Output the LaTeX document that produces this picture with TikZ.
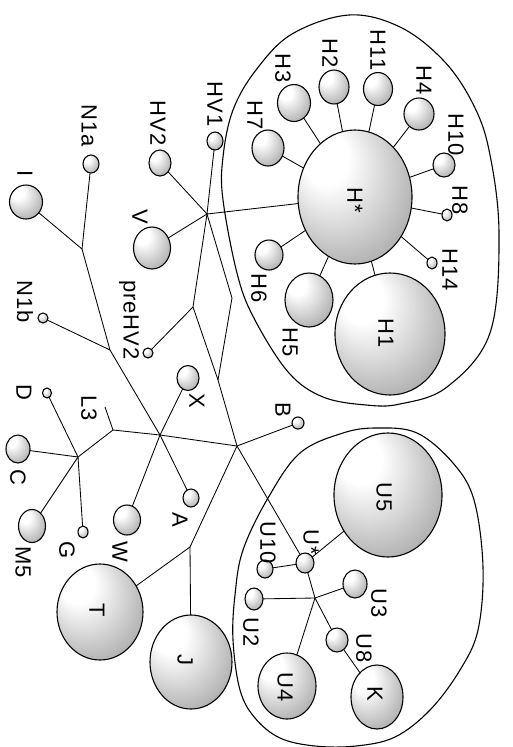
\documentclass[tikz,border=0pt]{standalone}
\usepackage{fontspec}
\setmainfont[LetterSpace=4]{Liberation Sans}
\usetikzlibrary{shapes.geometric}
\pgfdeclareradialshading{blob}{\pgfpoint{-16bp}{18bp}}{color(0bp)=(white); color(10bp)=(white); color(22bp)=(black!16); color(34bp)=(black!32); color(44bp)=(black!42); color(50bp)=(black!45)}
\newcommand\bl[4]{\node[ball, minimum width=#3pt, minimum height=#4pt] (#1) at (#2) {};}
\newcommand\lb[3]{\node[lbl] (#1) at (#2) {#3};}
\begin{document}
\begin{tikzpicture}[x=1pt,y=-1pt,
  ball/.style={ellipse, draw=black, line width=1.1pt, shading=blob, inner sep=0pt, outer sep=0pt},
  lbl/.style={rotate=-90, inner sep=0pt, font=\fontsize{22}{22}\selectfont},
  link/.style={line width=0.85pt, draw=black},
  group/.style={line width=1.1pt, draw=black}]
\useasboundingbox (0,0) rectangle (512,747);
% group outlines
\draw[group] plot[smooth cycle, tension=0.6] coordinates {(349,15) (400,27) (443,60) (472,102) (489,150) (499,233) (490,333) (447,387) (400,404) (366,405) (323,397) (289,373) (256,322) (238,277) (223,200) (223,157) (233,110) (256,70) (292,34)};
\draw[group] plot[smooth cycle, tension=0.6] coordinates {(300,453) (343,433) (377,428) (417,433) (453,463) (474,500) (483,567) (478,630) (460,670) (430,710) (395,737) (356,746) (315,746) (280,738) (255,718) (240,690) (233,640) (235,595) (243,550) (268,498)};
% H group
\bl{Hstar}{355,197}{114}{134}
\bl{H1}{390,334}{110}{122}
\bl{H5}{309,300}{48}{54}
\bl{H6}{269,255}{28}{30}
\bl{H7}{268,148}{32}{36}
\bl{H3}{294,103}{33}{37}
\bl{H2}{334,87}{30}{34}
\bl{H11}{378,89}{29}{33}
\bl{H4}{419,114}{30}{32}
\bl{H10}{444,165}{22}{24}
\bl{H8}{447,215}{10}{12}
\bl{H14}{432,263}{10}{12}
% left side
\bl{N1a}{91,164}{16}{18}
\bl{HV2}{160,163}{22}{26}
\bl{HV1}{215,141}{16}{18}
\bl{I}{26,202}{33}{34}
\bl{V}{152,248}{37}{42}
\bl{preHV2}{148,353}{10}{10}
\bl{N1b}{43,318}{10}{10}
\bl{X}{188,378}{22}{25}
\bl{D}{47,393}{9}{10}
\bl{C}{18,449}{24}{28}
\bl{M5}{32,526}{27}{33}
\bl{G}{83,532}{10}{12}
\bl{W}{127,520}{27}{30}
\bl{A}{191,498}{16}{18}
\bl{B}{298,423}{12}{12}
\bl{T}{100,612}{86}{96}
\bl{J}{191,662}{82}{94}
% U group
\bl{U5}{388,495}{108}{124}
\bl{Ustar}{305,563}{18}{20}
\bl{U10}{265,569}{16}{18}
\bl{U2}{254,599}{18}{22}
\bl{U3}{355,584}{24}{28}
\bl{U8}{337,640}{22}{24}
\bl{K}{377,697}{52}{64}
\bl{U4}{287,686}{58}{66}
% junctions
\coordinate (hub) at (207,214);
\coordinate (pj) at (193,307);
\coordinate (kink) at (232,298);
\coordinate (mj) at (218,380);
\coordinate (Bj) at (237,446);
\coordinate (Xj) at (160,435);
\coordinate (N1bj) at (110,350);
\coordinate (nIj) at (82,249);
\coordinate (L3j) at (113,430);
\coordinate (L3end) at (105,407);
\coordinate (CDj) at (78,457);
\coordinate (TJj) at (190,547);
\coordinate (uj) at (315,598);
% connectors
\draw[link] (hub) -- (HV2);
\draw[link] (hub) -- (HV1);
\draw[link] (hub) -- (V);
\draw[link] (hub) -- (Hstar);
\draw[link] (hub) -- (pj);
\draw[link] (hub) -- (kink) -- (mj);
\draw[link] (pj) -- (preHV2);
\draw[link] (pj) -- (mj) -- (Bj);
\draw[link] (Bj) -- (B);
\draw[link] (Bj) -- (Xj);
\draw[link] (Bj) -- (TJj);
\draw[link] (Bj) -- (Ustar);
\draw[link] (TJj) -- (T);
\draw[link] (TJj) -- (J);
\draw[link] (Xj) -- (X);
\draw[link] (Xj) -- (L3j);
\draw[link] (Xj) -- (W);
\draw[link] (Xj) -- (A);
\draw[link] (Xj) -- (N1bj);
\draw[link] (N1bj) -- (N1b);
\draw[link] (N1bj) -- (nIj);
\draw[link] (nIj) -- (N1a);
\draw[link] (nIj) -- (I);
\draw[link] (L3j) -- (L3end);
\draw[link] (L3j) -- (CDj);
\draw[link] (CDj) -- (D);
\draw[link] (CDj) -- (C);
\draw[link] (CDj) -- (M5);
\draw[link] (CDj) -- (G);
\draw[link] (Ustar) -- (U5);
\draw[link] (Ustar) -- (U10);
\draw[link] (Ustar) -- (uj);
\draw[link] (uj) -- (U3);
\draw[link] (uj) -- (U2);
\draw[link] (uj) -- (U4);
\draw[link] (uj) -- (U8);
\draw[link] (U8) -- (K);
\foreach \h in {H1,H5,H6,H7,H3,H2,H11,H4,H10,H8,H14} \draw[link] (Hstar) -- (\h);
% labels
\lb{lN1a}{89,126}{N1a}
\lb{lHV2}{158,123}{HV2}
\lb{lHV1}{215,104}{HV1}
\lb{lI}{25,174}{I}
\lb{lV}{140,217}{V}
\lb{lH7}{255,115}{H7}
\lb{lH3}{283,68}{H3}
\lb{lH2}{330,53}{H2}
\lb{lH11}{378,50}{H11}
\lb{lH4}{424,80}{H4}
\lb{lH10}{456,135}{H10}
\lb{lH8}{460,200}{H8}
\lb{lH14}{450,270}{H14}
\lb{lH6}{259,288}{H6}
\lb{lH5}{290,342}{H5}
\lb{lHstar}{355,200}{H*}
\lb{lH1}{386,333}{H1}
\lb{lpreHV2}{129,320}{preHV2}
\lb{lN1b}{25,302}{N1b}
\lb{lD}{24,392}{D}
\lb{lL3}{89,408}{L3}
\lb{lX}{197,401}{X}
\lb{lB}{283,410}{B}
\lb{lC}{18,477}{C}
\lb{lG}{67,550}{G}
\lb{lM5}{23,562}{M5}
\lb{lW}{120,552}{W}
\lb{lA}{180,520}{A}
\lb{lT}{97,610}{T}
\lb{lJ}{185,660}{J}
\lb{lU5}{384,497}{U5}
\lb{lUstar}{311,542}{U*}
\lb{lU10}{268,543}{U10}
\lb{lU2}{251,632}{U2}
\lb{lU3}{379,603}{U3}
\lb{lU8}{364,648}{U8}
\lb{lK}{375,694}{K}
\lb{lU4}{285,687}{U4}
\end{tikzpicture}
\end{document}
